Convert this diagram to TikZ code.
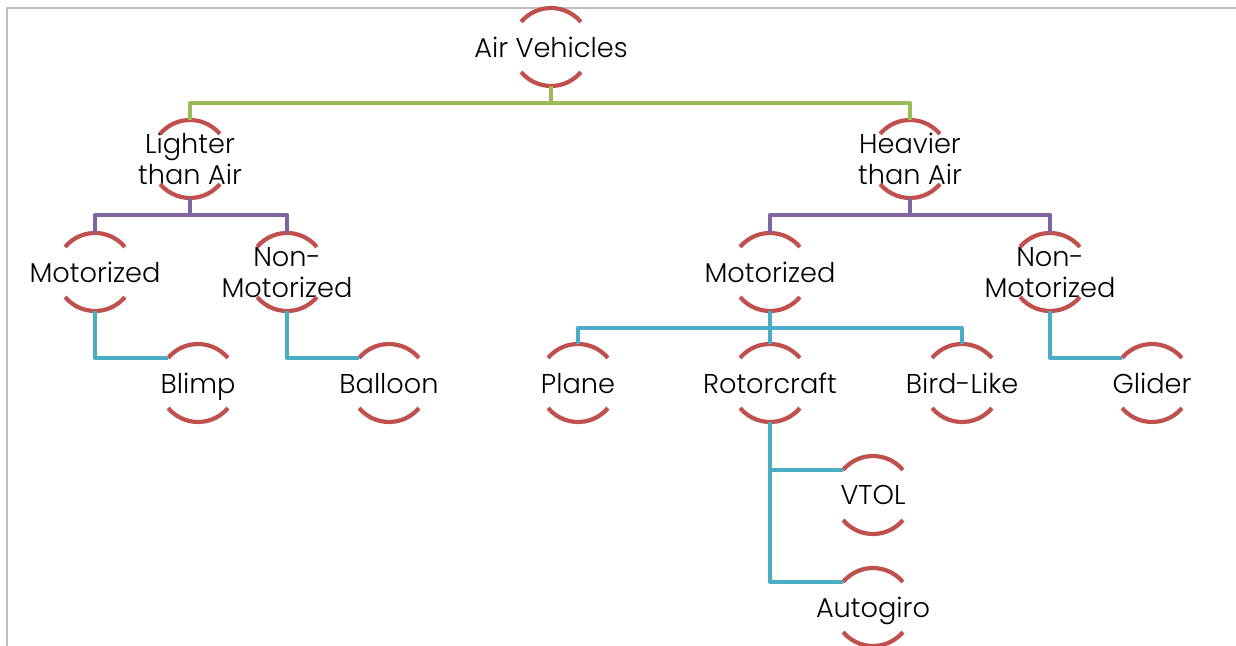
\documentclass[tikz,border=0pt]{standalone}
\usepackage{fontspec}
\setmainfont{Poppins}[UprightFont=* Light]
\usepackage{tikz}
\definecolor{rimc}{HTML}{C0504D}
\definecolor{lvone}{HTML}{9BBB59}
\definecolor{lvtwo}{HTML}{8064A2}
\definecolor{lvthree}{HTML}{4BACC6}
\definecolor{framec}{HTML}{BFBFBF}
\tikzset{
  hub/.style={circle,minimum size=39pt,inner sep=0pt,outer sep=0pt},
  lbl/.style={font=\fontsize{13.6}{15.5}\selectfont,text=black,align=center,
    inner sep=0pt,text depth=0pt},
  rim/.style={draw=rimc,line width=2.1pt},
  tie/.style={line width=2.1pt,line join=round}
}
\begin{document}
\begin{tikzpicture}[x=0.5pt,y=-0.5pt]
  \useasboundingbox (0,0) rectangle (1236,646);
  \draw[framec,line width=1pt] (7,646) -- (7,8) -- (1236,8);
  % top and second level
  \node[hub,label={[lbl]center:Air Vehicles}] (air) at (551,47) {};
  \node[hub,label={[lbl]center:Lighter\\than Air}] (lta) at (190,159) {};
  \node[hub,label={[lbl]center:Heavier\\than Air}] (hta) at (910,159) {};
  % third level
  \node[hub,label={[lbl]center:Motorized}] (motl) at (95,272) {};
  \node[hub,label={[lbl]center:Non-\\Motorized}] (nonl) at (287,272) {};
  \node[hub,label={[lbl]center:Motorized}] (motr) at (770,272) {};
  \node[hub,label={[lbl]center:Non-\\Motorized}] (nonr) at (1050,272) {};
  % leaves
  \node[hub,label={[lbl]center:Blimp}] (blimp) at (198,383) {};
  \node[hub,label={[lbl]center:Balloon}] (balloon) at (389,383) {};
  \node[hub,label={[lbl]center:Plane}] (plane) at (578,383) {};
  \node[hub,label={[lbl]center:Rotorcraft}] (rotor) at (770,383) {};
  \node[hub,label={[lbl]center:Bird-Like}] (bird) at (962,383) {};
  \node[hub,label={[lbl]center:Glider}] (glider) at (1152,383) {};
  \node[hub,label={[lbl]center:VTOL}] (vtol) at (873,495) {};
  \node[hub,label={[lbl]center:Autogiro}] (auto) at (873,607) {};
  % open rims above and below each label
  \foreach \n in {air,lta,hta,motl,nonl,motr,nonr,blimp,balloon,plane,rotor,bird,glider,vtol,auto}{%
    \draw[rim] (\n.40) arc[start angle=40,end angle=140,radius=19.5pt];
    \draw[rim] (\n.220) arc[start angle=220,end angle=320,radius=19.5pt];}
  % buses
  \foreach \b in {lta,hta}{\draw[tie,lvone] (air.south) -- ++(0,17) -| (\b.north);}
  \foreach \b in {motl,nonl}{\draw[tie,lvtwo] (lta.south) -- ++(0,17) -| (\b.north);}
  \foreach \b in {motr,nonr}{\draw[tie,lvtwo] (hta.south) -- ++(0,17) -| (\b.north);}
  \foreach \b in {plane,rotor,bird}{\draw[tie,lvthree] (motr.south) -- ++(0,17) -| (\b.north);}
  % side branches
  \foreach \a/\b in {motl/blimp,nonl/balloon,nonr/glider,rotor/vtol,rotor/auto}{%
    \draw[tie,lvthree] (\a.south) |- (\b.140);}
\end{tikzpicture}
\end{document}
